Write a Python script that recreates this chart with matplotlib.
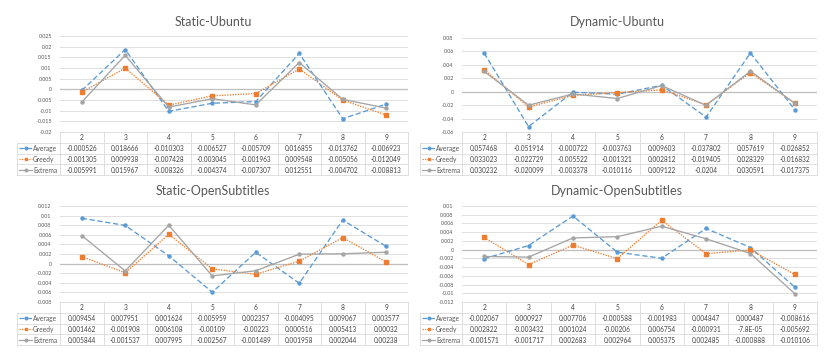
import numpy as np
import matplotlib
matplotlib.use('Agg')
import matplotlib.pyplot as plt

plt.rcParams['font.family'] = ['Lato', 'DejaVu Sans']
plt.rcParams['axes.unicode_minus'] = False

# Данные (категории и ряды)
cats = ['2', '3', '4', '5', '6', '7', '8', '9']
names = ['Average', 'Greedy', 'Extrema']

su_average = [-0.000526, 0.018666, -0.010303, -0.006527, -0.005709, 0.016855, -0.013762, -0.006923]
su_greedy = [-0.001305, 0.009938, -0.007428, -0.003045, -0.001963, 0.009548, -0.005056, -0.012049]
su_extrema = [-0.005991, 0.015967, -0.008326, -0.004374, -0.007307, 0.012551, -0.004702, -0.008813]

du_average = [0.057468, -0.051914, -0.000722, -0.003763, 0.009603, -0.037802, 0.057619, -0.026852]
du_greedy = [0.033023, -0.022729, -0.005522, -0.001321, 0.002812, -0.019405, 0.028329, -0.016832]
du_extrema = [0.030232, -0.020099, -0.003378, -0.010116, 0.009122, -0.0204, 0.030591, -0.017375]

so_average = [0.009454, 0.007951, 0.001624, -0.005959, 0.002357, -0.004095, 0.009067, 0.003577]
so_greedy = [0.001462, -0.001908, 0.006108, -0.00109, -0.00223, 0.000516, 0.005413, 0.00032]
so_extrema = [0.005844, -0.001537, 0.007995, -0.002567, -0.001489, 0.001958, 0.002044, 0.00238]

do_average = [-0.002067, 0.000927, 0.007706, -0.000588, -0.001983, 0.004847, 0.000487, -0.008616]
do_greedy = [0.002822, -0.003432, 0.001024, -0.00206, 0.006754, -0.000931, -7.8e-05, -0.005692]
do_extrema = [-0.001571, -0.001717, 0.002683, 0.002964, 0.005375, 0.002485, -0.000888, -0.010106]

colors = ['#5B9BD5', '#ED7D31', '#A5A5A5']
styles = [(0, (4, 2)), (0, (1, 1)), '-']
markers = ['o', 's', 'o']

W, H = 831, 358
fig = plt.figure(figsize=(W / 100, H / 100), dpi=100)


def box(x0, y0, x1, y1):
    return [x0 / W, 1 - y1 / H, (x1 - x0) / W, (y1 - y0) / H]


def fmt(v):
    return repr(v).replace('e', 'E')


# (заголовок, ряды, ymin, ymax, шаг, x графика, y графика, левый край подписей, низ таблицы, центр заголовка)
panels = [
    ('Static-Ubuntu', [su_average, su_greedy, su_extrema], -0.02, 0.025, 0.005,
     (60, 408), (36, 132), 17, 175, (213, 22)),
    ('Dynamic-Ubuntu', [du_average, du_greedy, du_extrema], -0.06, 0.08, 0.02,
     (462, 817), (38, 132), 420, 175, (617, 22)),
    ('Static-OpenSubtitles', [so_average, so_greedy, so_extrema], -0.008, 0.012, 0.002,
     (60, 408), (206, 302), 17, 345, (213, 191)),
    ('Dynamic-OpenSubtitles', [do_average, do_greedy, do_extrema], -0.012, 0.01, 0.002,
     (462, 817), (206, 302), 420, 345, (617, 191)),
]

for title, data, ymin, ymax, step, (px0, px1), (py0, py1), lx0, ty1, (tx, ty) in panels:
    ax = fig.add_axes(box(px0, py0, px1, py1))
    ax.set_xlim(-0.5, 7.5)
    ax.set_ylim(ymin, ymax)
    n = int(round((ymax - ymin) / step))
    ticks = [round(ymin + k * step, 6) for k in range(n + 1)]
    ax.set_yticks(ticks)
    ax.set_yticklabels(['%g' % t for t in ticks])
    for t in ticks:
        ax.axhline(t, color='#D9D9D9', lw=0.6, zorder=0)
    ax.axhline(0, color='#BFBFBF', lw=0.9, zorder=0)
    ax.set_xticks([])
    for s in ax.spines.values():
        s.set_visible(False)
    ax.tick_params(axis='y', length=0, labelsize=3.8, labelcolor='#595959', pad=6)
    for vals, c, ls, mk in zip(data, colors, styles, markers):
        ax.plot(range(len(cats)), vals, color=c, ls=ls, lw=0.95,
                marker=mk, ms=2.2, mec=c, mfc=c, clip_on=False)
    fig.text(tx / W, 1 - ty / H, title, ha='center', va='center',
             fontsize=9, color='#595959')

    # Таблица данных
    tax = fig.add_axes(box(px0, py1, px1, ty1))
    tax.set_xlim(-0.5, 7.5)
    tax.set_ylim(4, 0)
    tax.axis('off')
    colw = (px1 - px0) / 8
    xl = -0.5 - (px0 - lx0) / colw
    gc = '#D9D9D9'
    for j in range(9):
        tax.plot([j - 0.5, j - 0.5], [0, 4], color=gc, lw=0.6, clip_on=False)
    tax.plot([-0.5, 7.5], [0, 0], color=gc, lw=0.6, clip_on=False)
    for i in range(1, 5):
        tax.plot([xl, 7.5], [i, i], color=gc, lw=0.6, clip_on=False)
    tax.plot([xl, xl], [1, 4], color=gc, lw=0.6, clip_on=False)
    for j, c in enumerate(cats):
        tax.text(j, 0.55, c, ha='center', va='center', fontsize=4.8, color='#404040')
    for i, (name, vals, c, ls, mk) in enumerate(zip(names, data, colors, styles, markers)):
        y = i + 1.55
        for j, v in enumerate(vals):
            tax.text(j, y, fmt(v), ha='center', va='center', fontsize=4.7, color='#404040')
        k0 = xl + 2 / colw
        k1 = xl + 15 / colw
        tax.plot([k0, k1], [y - 0.05, y - 0.05], color=c, ls=ls, lw=0.9, clip_on=False)
        tax.plot([(k0 + k1) / 2], [y - 0.05], marker=mk, ms=1.9, color=c, clip_on=False)
        tax.text(xl + 16 / colw, y, name, ha='left', va='center', fontsize=4.8, color='#595959')

fig.savefig('out.png', dpi=100)
